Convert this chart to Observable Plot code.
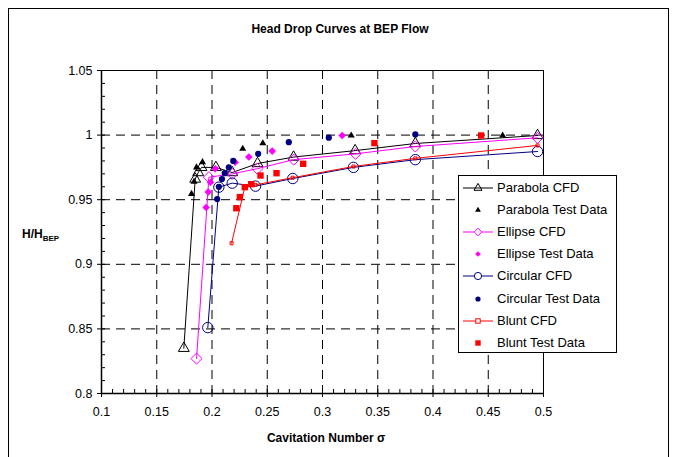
<!DOCTYPE html>
<html><head><meta charset="utf-8">
<script src="https://cdn.jsdelivr.net/npm/d3@7"></script>
<script src="https://cdn.jsdelivr.net/npm/@observablehq/plot@0.6"></script>
<style>
body{margin:0;background:#fff;font-family:"Liberation Sans",Arial,sans-serif;}
#wrap{position:relative;width:678px;height:457px;overflow:hidden;background:#fff;}
#border{position:absolute;left:8px;top:8px;width:661px;height:470px;border:1px solid #000;box-sizing:border-box;pointer-events:none;}
.t{position:absolute;font-weight:bold;color:#000;white-space:nowrap;}
#title{left:0;width:680px;top:22px;text-align:center;font-size:12px;}
#xlab{left:0;width:652px;top:431px;text-align:center;font-size:12px;}
#ylab{left:22px;top:227px;font-size:12px;}
#ylab sub{font-size:8px;vertical-align:-3px;}
#legend{position:absolute;left:458px;top:175px;width:159px;height:178px;border:1px solid #000;box-sizing:border-box;background:#fff;}
.row{position:absolute;left:0;height:22px;width:157px;}
.row svg{position:absolute;left:2px;top:0;}
.row span{position:absolute;left:38px;top:3px;font-size:13px;color:#000;white-space:nowrap;}
</style></head><body><div id="wrap"></div>
<script>
// ---- data ----
const parabolaCfdSigma = [0.1745, 0.1848, 0.1875, 0.1905, 0.2035, 0.2183, 0.2412, 0.2738, 0.3295, 0.384, 0.4946];
const parabolaCfdHead  = [0.835, 0.966, 0.971, 0.975, 0.975, 0.971, 0.978, 0.983, 0.988, 0.9935, 0.9997];
const parabolaTestSigma = [0.1815, 0.1838, 0.186, 0.1914, 0.2278, 0.246, 0.326, 0.463];
const parabolaTestHead  = [0.9545, 0.964, 0.975, 0.979, 0.9894, 0.9937, 0.9997, 0.9997];
const ellipseCfdSigma = [0.186, 0.1972, 0.2183, 0.241, 0.274, 0.3299, 0.384, 0.4946];
const ellipseCfdHead  = [0.827, 0.9674, 0.970, 0.974, 0.981, 0.9855, 0.9912, 0.9979];
const ellipseTestSigma = [0.1947, 0.1966, 0.1986, 0.203, 0.221, 0.2333, 0.2545, 0.3178];
const ellipseTestHead  = [0.944, 0.956, 0.9635, 0.974, 0.979, 0.983, 0.9876, 0.9997];
const circularCfdSigma = [0.1962, 0.2062, 0.2183, 0.2394, 0.2731, 0.328, 0.384, 0.4946];
const circularCfdHead  = [0.851, 0.9597, 0.9628, 0.9605, 0.9664, 0.975, 0.981, 0.9873];
const circularTestSigma = [0.2047, 0.2062, 0.209, 0.2115, 0.2152, 0.2192, 0.2418, 0.2695, 0.3057, 0.384];
const circularTestHead  = [0.9505, 0.960, 0.966, 0.9705, 0.975, 0.980, 0.9855, 0.9945, 0.998, 1.0005];
const bluntCfdSigma = [0.2177, 0.2297, 0.2394, 0.2729, 0.328, 0.384, 0.4946];
const bluntCfdHead  = [0.9163, 0.9597, 0.9615, 0.967, 0.9757, 0.982, 0.992];
const bluntTestSigma = [0.222, 0.2252, 0.2297, 0.2355, 0.2439, 0.2584, 0.2825, 0.347, 0.4436];
const bluntTestHead  = [0.9434, 0.952, 0.9597, 0.962, 0.9687, 0.9705, 0.9778, 0.9938, 0.9997];

const xTickValues = [0.1, 0.15, 0.2, 0.25, 0.3, 0.35, 0.4, 0.45, 0.5];
const xTickLabels = ["0.1", "0.15", "0.2", "0.25", "0.3", "0.35", "0.4", "0.45", "0.5"];
const yTickValues = [0.8, 0.85, 0.9, 0.95, 1.0, 1.05];
const yTickLabels = ["0.8", "0.85", "0.9", "0.95", "1", "1.05"];
const seriesNames = ["Parabola CFD", "Parabola Test Data", "Ellipse CFD", "Ellipse Test Data",
                     "Circular CFD", "Circular Test Data", "Blunt CFD", "Blunt Test Data"];

// ---- build tables ----
const zip = (xs, ys) => xs.map((x, i) => ({sigma: x, head: ys[i]}));
const parabolaCfd = zip(parabolaCfdSigma, parabolaCfdHead);
const parabolaTest = zip(parabolaTestSigma, parabolaTestHead);
const ellipseCfd = zip(ellipseCfdSigma, ellipseCfdHead);
const ellipseTest = zip(ellipseTestSigma, ellipseTestHead);
const circularCfd = zip(circularCfdSigma, circularCfdHead);
const circularTest = zip(circularTestSigma, circularTestHead);
const bluntCfd = zip(bluntCfdSigma, bluntCfdHead);
const bluntTest = zip(bluntTestSigma, bluntTestHead);

const xMinor = d3.range(10, 51).map(d => d / 100);
const yMinor = d3.range(80, 106).map(d => d / 100);
const xLab = new Map(xTickValues.map((v, i) => [v, xTickLabels[i]]));
const yLab = new Map(yTickValues.map((v, i) => [v, yTickLabels[i]]));

const BLACK = "#000000", PINK = "#FF00FF", NAVY = "#000080", RED = "#FF0000";
const xy = {x: "sigma", y: "head"};

const chart = Plot.plot({
  width: 678, height: 457,
  marginLeft: 101, marginRight: 135, marginTop: 70, marginBottom: 64,
  style: {fontFamily: '"Liberation Sans", Arial, sans-serif', fontSize: "12.5px", color: "#000", background: "transparent"},
  x: {domain: [0.1, 0.5], label: null},
  y: {domain: [0.8, 1.05], label: null},
  marks: [
    Plot.gridX(xTickValues.slice(1, -1), {stroke: BLACK, strokeOpacity: 1, strokeDasharray: "9,6"}),
    Plot.gridY(yTickValues.slice(1, -1), {stroke: BLACK, strokeOpacity: 1, strokeDasharray: "9,6"}),
    Plot.frame({stroke: BLACK}),
    Plot.axisX(xMinor, {tickSize: 4, dy: -4, tickFormat: () => "", label: null}),
    Plot.axisY(yMinor, {tickSize: 4, dx: 4, tickFormat: () => "", label: null}),
    Plot.axisX(xTickValues, {tickSize: 4, tickPadding: 10, tickFormat: d => xLab.get(d), label: null, fontSize: 12.5}),
    Plot.axisY(yTickValues, {tickSize: 4, tickPadding: 5, tickFormat: d => yLab.get(d), label: null, fontSize: 12.5}),
    Plot.ruleX([0.1], {stroke: BLACK, strokeWidth: 1.5}),
    Plot.ruleY([0.8], {stroke: BLACK, strokeWidth: 1.5}),

    Plot.line(parabolaCfd, {...xy, stroke: BLACK, strokeWidth: 1}),
    Plot.dot(parabolaCfd, {...xy, symbol: "triangle2", r: 5.2, stroke: BLACK, fill: "none", strokeWidth: 1}),
    Plot.dot(parabolaTest, {...xy, symbol: "triangle2", r: 3.4, fill: BLACK, stroke: "none"}),
    Plot.line(ellipseCfd, {...xy, stroke: PINK, strokeWidth: 1}),
    Plot.dot(ellipseCfd, {...xy, symbol: "diamond2", r: 5.0, stroke: PINK, fill: "none", strokeWidth: 1}),
    Plot.dot(ellipseTest, {...xy, symbol: "diamond2", r: 3.4, fill: PINK, stroke: "none"}),
    Plot.line(circularCfd, {...xy, stroke: NAVY, strokeWidth: 1}),
    Plot.dot(circularCfd, {...xy, symbol: "circle", r: 5.2, stroke: NAVY, fill: "none", strokeWidth: 1}),
    Plot.dot(circularTest, {...xy, symbol: "circle", r: 3.1, fill: NAVY, stroke: "none"}),
    Plot.line(bluntCfd, {...xy, stroke: RED, strokeWidth: 1}),
    Plot.dot(bluntCfd, {...xy, symbol: "square", r: 1.7, stroke: RED, fill: "none", strokeWidth: 1}),
    Plot.dot(bluntTest, {...xy, symbol: "square", r: 3.6, fill: RED, stroke: "none"})
  ]
});

const wrap = document.getElementById("wrap");
chart.style.position = "absolute";
chart.style.left = "0px";
chart.style.top = "0px";
wrap.appendChild(chart);

function addDiv(id, html) {
  const d = document.createElement("div");
  d.id = id; d.className = "t"; d.innerHTML = html; wrap.appendChild(d); return d;
}
addDiv("title", "Head Drop Curves at BEP Flow");
addDiv("xlab", "Cavitation Number σ");
addDiv("ylab", "H/H<sub>BEP</sub>");

// legend
const legendSpec = [
  {line: BLACK, mark: '<path d="M0,-4.6L4,2.3L-4,2.3Z" fill="none" stroke="#000"/>'},
  {line: null,  mark: '<path d="M0,-3.3L2.9,1.7L-2.9,1.7Z" fill="#000"/>'},
  {line: PINK,  mark: '<path d="M0,-3.8L3.8,0L0,3.8L-3.8,0Z" fill="#fff" stroke="#FF00FF"/>'},
  {line: null,  mark: '<path d="M0,-2.8L2.8,0L0,2.8L-2.8,0Z" fill="#FF00FF"/>'},
  {line: NAVY,  mark: '<circle r="3.6" fill="#fff" stroke="#000080"/>'},
  {line: null,  mark: '<circle r="2.6" fill="#000080"/>'},
  {line: RED,   mark: '<rect x="-2.2" y="-2.2" width="4.4" height="4.4" fill="#fff" stroke="#FF0000"/>'},
  {line: null,  mark: '<rect x="-2.7" y="-2.7" width="5.4" height="5.4" fill="#FF0000"/>'}
];
const legend = document.createElement("div");
legend.id = "legend";
seriesNames.forEach((name, i) => {
  const s = legendSpec[i];
  const row = document.createElement("div");
  row.className = "row";
  row.style.top = (1 + i * 22.1) + "px";
  row.innerHTML = '<svg width="34" height="22"><g transform="translate(17,11)">' +
    (s.line ? '<line x1="-15" x2="15" y1="0" y2="0" stroke="' + s.line + '"/>' : '') + s.mark +
    '</g></svg><span>' + name + '</span>';
  legend.appendChild(row);
});
wrap.appendChild(legend);

const border = document.createElement("div");
border.id = "border";
wrap.appendChild(border);
</script></body></html>
